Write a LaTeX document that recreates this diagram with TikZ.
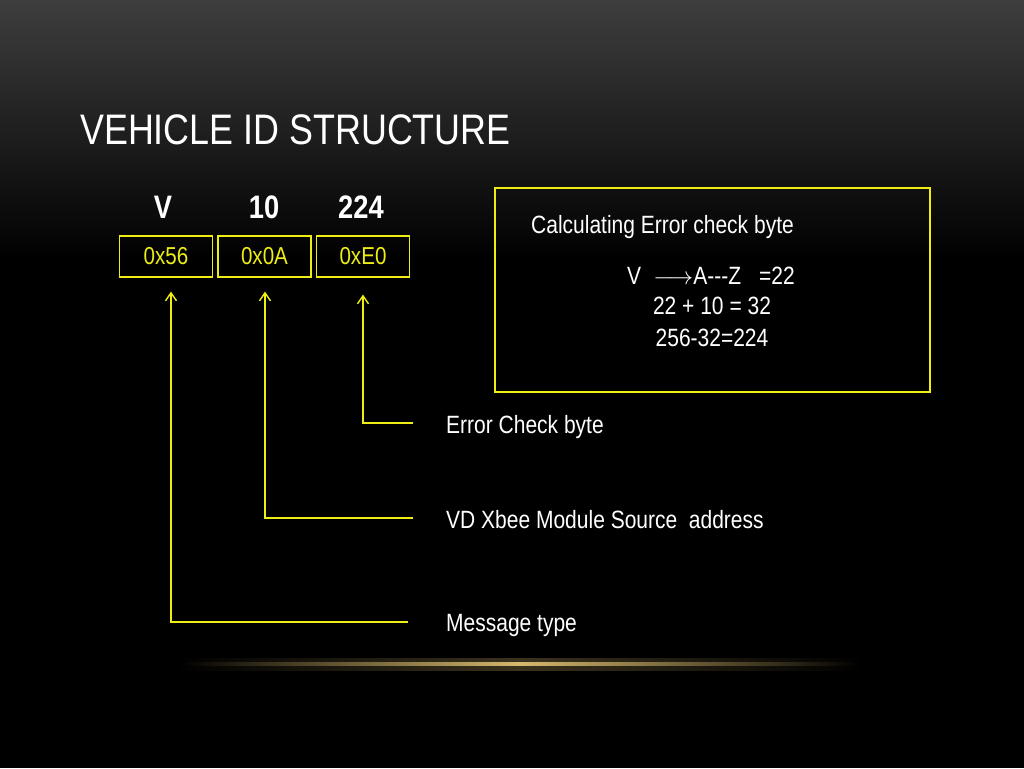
\documentclass[tikz,border=0pt]{standalone}
\usepackage{fontspec}
\setmainfont[FakeStretch=0.84]{Liberation Sans}
\usetikzlibrary{arrows.meta}
\definecolor{ylw}{RGB}{238,238,20}
\definecolor{gold}{RGB}{215,185,110}
\tikzset{
  hexbox/.style={draw=ylw, line width=1.2pt, text=ylw, minimum width=93pt, minimum height=41pt, inner sep=0pt, font=\fontsize{24.5}{26}\selectfont},
  toplbl/.style={text=white, font=\bfseries\fontsize{32.5}{34}\selectfont},
  conn/.style={draw=ylw, line width=1.4pt, -{Straight Barb[length=8pt,width=11pt]}},
  desc/.style={text=white, anchor=west, inner sep=0pt, font=\fontsize{25}{27}\selectfont},
  calc/.style={text=white, inner sep=0pt, font=\fontsize{25}{27}\selectfont},
}
\begin{document}
\begin{tikzpicture}[x=1pt,y=-1pt]
\useasboundingbox (0,0) rectangle (1024,768);
\fill[black] (0,0) rectangle (1024,768);
\shade[top color={rgb,255:red,62;green,62;blue,62}, bottom color=black] (0,0) rectangle (1024,260);
% glow line
\shade[left color=black, right color=black, middle color=gold!55!black, opacity=0.5] (175,658) rectangle (865,670);
\shade[left color=black, right color=black, middle color=gold] (180,662.5) rectangle (860,665.5);
% title
\node[anchor=west, text=white, inner sep=0pt, font=\fontsize{42.7}{44}\selectfont] (title) at (80,130) {VEHICLE ID STRUCTURE};
% boxes
\node[hexbox] (b1) at (166,256.5) {0x56};
\node[hexbox] (b2) at (264.5,256.5) {0x0A};
\node[hexbox] (b3) at (363,256.5) {0xE0};
\node[toplbl] (l1) at (163,207) {V};
\node[toplbl] (l2) at (264,207) {10};
\node[toplbl] (l3) at (361,207) {224};
% descriptions
\node[desc] (d3) at (446,427) {Error Check byte};
\node[desc] (d2) at (446,520) {VD Xbee Module Source\ \ address};
\node[desc] (d1) at (446,625) {Message type};
\coordinate (e3) at (413,423);
\coordinate (e2) at (413,518);
\coordinate (e1) at (408,622);
\draw[conn] (e3) -| ([yshift=-17]b3.south);
\draw[conn] (e2) -| ([xshift=0.5,yshift=-14]b2.south);
\draw[conn] (e1) -| ([xshift=5,yshift=-14]b1.south);
% calc box
\node[draw=ylw, line width=1.2pt, minimum width=435pt, minimum height=204pt, inner sep=0pt] (cbox) at (712.5,290) {};
\node[calc, anchor=west] (c0) at (531,227) {Calculating Error check byte};
\node[calc] (c1) at (711,276) {V\hspace{12pt}$\longrightarrow$A-{}-{}-Z\hspace{18pt}=22};
\node[calc] (c2) at (712,306) {22 + 10 = 32};
\node[calc] (c3) at (712,338) {256-32=224};
\end{tikzpicture}
\end{document}
